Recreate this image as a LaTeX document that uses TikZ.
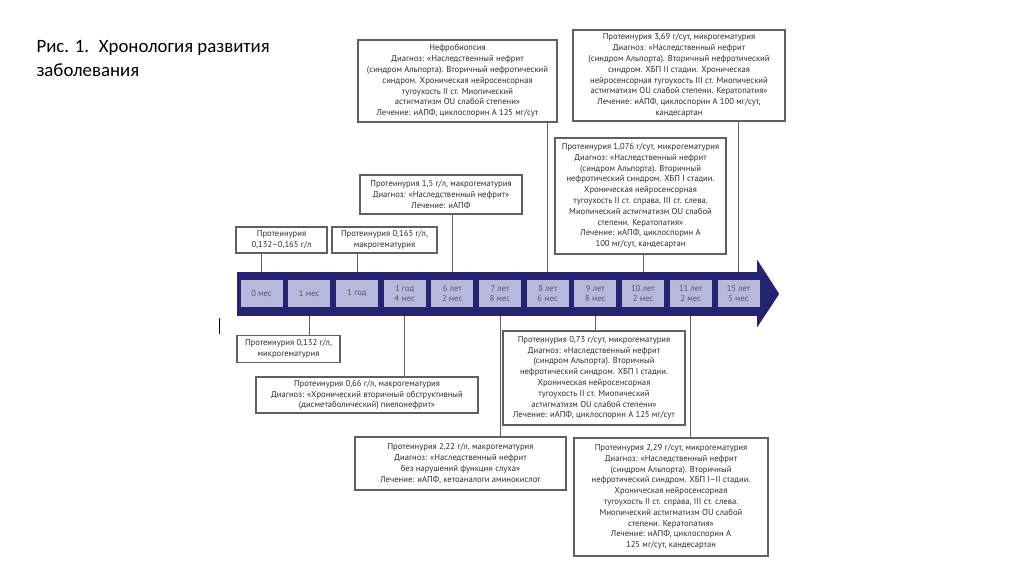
\documentclass[tikz,border=0pt]{standalone}
\usepackage{fontspec}
\setmainfont{PT Sans}
\newfontfamily\titlefont{Carlito}
\usetikzlibrary{positioning}
\definecolor{bandblue}{RGB}{36,36,112}
\definecolor{cellfill}{RGB}{184,184,220}
\definecolor{celltext}{RGB}{85,85,115}
\definecolor{boxgray}{RGB}{95,95,105}
\definecolor{notetext}{RGB}{45,45,45}
\tikzset{note node/.style={draw=boxgray,line width=1.1pt,fill=white,align=center,inner sep=2pt,text=notetext,font=\fontsize{8.6}{10.8}\selectfont},
            time node/.style={fill=cellfill,minimum width=42pt,minimum height=27pt,inner sep=1pt,align=center,text=celltext,font=\fontsize{8.5}{10}\selectfont},
            link/.style={draw=boxgray,line width=0.8pt},
            }

\begin{document}
\begin{tikzpicture}[x=1pt,y=-1pt]
        \useasboundingbox[fill=white] (0,0) rectangle (1024,574);
        \node[anchor=north west,align=left,font=\titlefont\fontsize{18.8}{23.5}\selectfont] (title) at (33,37) {Рис. 1.~ Хронология развития\\заболевания};

        % timeline
        \node[fill=bandblue,minimum width=520pt,minimum height=44pt,inner sep=0pt] (band) at (497,294) {};
        \fill[bandblue] ([yshift=12pt]band.north east) -- ([xshift=22pt]band.east) -- ([yshift=-11pt]band.south east) -- cycle;

        \node[time node] (t0) at (261.5,293.5) {0 мес};
        \node[time node] (t1) [right = 5.3pt of t0] {1 мес};
        \node[time node] (t2) [right = 5.3pt of t1] {1 год};
        \node[time node] (t3) [right = 5.3pt of t2] {1 год\\4 мес};
        \node[time node] (t4) [right = 5.3pt of t3] {6 лет\\2 мес};
        \node[time node] (t5) [right = 5.3pt of t4] {7 лет\\8 мес};
        \node[time node] (t6) [right = 5.3pt of t5] {8 лет\\6 мес};
        \node[time node] (t7) [right = 5.3pt of t6] {9 лет\\8 мес};
        \node[time node] (t8) [right = 5.3pt of t7] {10 лет\\2 мес};
        \node[time node] (t9) [right = 5.3pt of t8] {11 лет\\2 мес};
        \node[time node] (t10) [right = 5.3pt of t9] {15 лет\\5 мес};

        % above the line
        \node[note node,minimum width=91pt,minimum height=26pt] (p1) at (281.5,240) {Протеинурия\\0,132–0,165 г/л};
        \node[note node,minimum width=105pt,minimum height=26pt] (p2) at (384.5,240) {Протеинурия 0,165 г/л,\\макрогематурия};
        \node[note node,minimum width=162pt,minimum height=39pt] (p3) at (441,194.5) {Протеинурия 1,5 г/л, макрогематурия\\Диагноз: «Наследственный нефрит»\\Лечение: иАПФ};
        \node[note node,minimum width=199pt,minimum height=82pt] (p4) at (457.5,81) {Нефробиопсия\\Диагноз: «Наследственный нефрит\\(синдром Альпорта). Вторичный нефротический\\синдром. Хроническая нейросенсорная\\тугоухость II ст. Миопический\\астигматизм OU слабой степени»\\Лечение: иАПФ, циклоспорин А 125 мг/сут};
        \node[note node,minimum width=212pt,minimum height=91pt] (p5) at (679,75.5) {Протеинурия 3,69 г/сут, микрогематурия\\Диагноз: «Наследственный нефрит\\(синдром Альпорта). Вторичный нефротический\\синдром. ХБП II стадии. Хроническая\\нейросенсорная тугоухость III ст. Миопический\\астигматизм OU слабой степени. Кератопатия»\\Лечение: иАПФ, циклоспорин А 100 мг/сут,\\кандесартан};
        \node[note node,minimum width=171pt,minimum height=116pt] (p6) at (640.5,196) {Протеинурия 1,076 г/сут, микрогематурия\\Диагноз: «Наследственный нефрит\\(синдром Альпорта). Вторичный\\нефротический синдром. ХБП I стадии.\\Хроническая нейросенсорная\\тугоухость II ст. справа, III ст. слева.\\Миопический астигматизм OU слабой\\степени. Кератопатия»\\Лечение: иАПФ, циклоспорин А\\100 мг/сут, кандесартан};

        % below the line
        \node[note node,minimum width=103pt,minimum height=27pt] (p7) at (288.5,349) {Протеинурия 0,132 г/л,\\микрогематурия};
        \node[note node,minimum width=222pt,minimum height=36pt] (p8) at (367,395) {Протеинурия 0,66 г/л, макрогематурия\\Диагноз: «Хронический вторичный обструктивный\\(дисметаболический) пиелонефрит»};
        \node[note node,minimum width=182pt,minimum height=94pt] (p9) at (594,378) {Протеинурия 0,73 г/сут, микрогематурия\\Диагноз: «Наследственный нефрит\\(синдром Альпорта). Вторичный\\нефротический синдром. ХБП I стадии.\\Хроническая нейросенсорная\\тугоухость II ст. Миопический\\астигматизм OU слабой степени»\\Лечение: иАПФ, циклоспорин А 125 мг/сут};
        \node[note node,minimum width=211pt,minimum height=53pt] (p10) at (460.5,463.5) {Протеинурия 2,22 г/л, макрогематурия\\Диагноз: «Наследственный нефрит\\без нарушений функции слуха»\\Лечение: иАПФ, кетоаналоги аминокислот};
        \node[note node,minimum width=194pt,minimum height=118pt] (p11) at (671,497) {Протеинурия 2,29 г/сут, микрогематурия\\Диагноз: «Наследственный нефрит\\(синдром Альпорта). Вторичный\\нефротический синдром. ХБП I–II стадии.\\Хроническая нейросенсорная\\тугоухость II ст. справа, III ст. слева.\\Миопический астигматизм OU слабой\\степени. Кератопатия»\\Лечение: иАПФ, циклоспорин А\\125 мг/сут, кандесартан};

        \path[link]
        (t0 |- p1.south) edge (t0 |- band.north)
        (t2 |- p2.south) edge (t2 |- band.north)
        (t4 |- p3.south) edge (t4 |- band.north)
        (t6 |- p4.south) edge (t6 |- band.north)
        (t8 |- p6.south) edge (t8 |- band.north)
        (t10 |- p5.south) edge (t10 |- band.north)
        (t1 |- band.south) edge (t1 |- p7.north)
        (t3 |- band.south) edge (t3 |- p8.north)
        (t5 |- band.south) edge (t5 |- p10.north)
        (t7 |- band.south) edge (t7 |- p9.north)
        (t9 |- band.south) edge (t9 |- p11.north);

        \draw[line width=1pt] (219,318) -- (219,334);
      \end{tikzpicture}
\end{document}
